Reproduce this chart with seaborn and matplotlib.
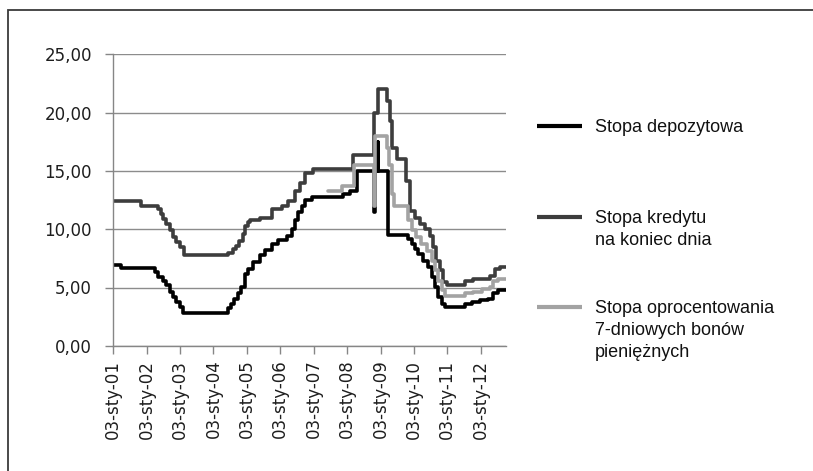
import matplotlib
matplotlib.use("Agg")
import matplotlib.pyplot as plt
from matplotlib.lines import Line2D
from matplotlib.patches import Rectangle
from matplotlib.ticker import FuncFormatter
import pandas as pd
import seaborn as sns

# --- series labels -------------------------------------------------------
series_names = [
    "Stopa depozytowa",
    "Stopa kredytu\nna koniec dnia",
    "Stopa oprocentowania\n7-dniowych bonów\npieniężnych",
]

# --- deposit rate (change dates and levels, %) ----------------------------
deposit_dates = [
    "2001-01-03", "2001-03-24", "2002-04-01", "2002-05-07", "2002-07-01",
    "2002-08-06", "2002-09-12", "2002-10-18", "2002-11-24", "2002-12-30",
    "2003-02-05", "2004-06-08", "2004-07-14", "2004-08-20", "2004-09-25",
    "2004-11-01", "2004-12-08", "2005-01-18", "2005-03-13", "2005-05-25",
    "2005-07-19", "2005-09-30", "2005-12-12", "2006-03-13", "2006-05-07",
    "2006-06-13", "2006-07-19", "2006-08-25", "2006-09-30", "2006-12-12",
    "2007-11-24", "2008-02-05", "2008-04-18", "2008-10-25", "2008-11-04",
    "2008-12-05", "2008-12-12", "2009-03-28", "2009-11-02", "2009-12-09",
    "2010-01-14", "2010-02-19", "2010-04-15", "2010-06-09", "2010-07-16",
    "2010-08-21", "2010-09-27", "2010-11-02", "2010-12-09", "2011-07-16",
    "2011-09-27", "2011-12-27", "2012-03-28", "2012-05-22", "2012-07-16",
    "2012-10-03",
]
deposit_rates = [
    6.90, 6.65, 6.30, 5.90, 5.60,
    5.20, 4.60, 4.20, 3.75, 3.35,
    2.80, 3.20, 3.60, 4.05, 4.50,
    5.05, 6.20, 6.60, 7.20, 7.75,
    8.20, 8.75, 9.05, 9.45, 10.00,
    10.75, 11.45, 12.00, 12.50, 12.75,
    13.00, 13.25, 15.00, 11.50, 15.00,
    17.50, 15.00, 9.50, 9.15, 8.75,
    8.30, 7.90, 7.30, 6.75, 5.90,
    5.05, 4.20, 3.60, 3.30, 3.60,
    3.75, 3.90, 4.05, 4.50, 4.75,
    4.75,
]

# --- overnight lending rate ---------------------------------------------
credit_dates = [
    "2001-01-03", "2001-11-06", "2002-05-07", "2002-06-13", "2002-07-01",
    "2002-08-06", "2002-09-12", "2002-10-18", "2002-11-24", "2002-12-30",
    "2003-02-16", "2004-06-08", "2004-08-02", "2004-09-07", "2004-10-14",
    "2004-11-19", "2004-12-08", "2005-01-14", "2005-02-05", "2005-05-25",
    "2005-09-30", "2006-01-18", "2006-04-01", "2006-06-13", "2006-08-06",
    "2006-09-30", "2006-12-30", "2008-03-13", "2008-10-27", "2008-12-05",
    "2009-03-17", "2009-04-15", "2009-05-14", "2009-06-27", "2009-10-14",
    "2009-11-19", "2010-01-14", "2010-03-10", "2010-05-04", "2010-06-27",
    "2010-08-02", "2010-09-07", "2010-10-14", "2010-11-19", "2010-12-27",
    "2011-07-16", "2011-10-14", "2012-04-15", "2012-06-09", "2012-08-02",
    "2012-10-03",
]
credit_rates = [
    12.40, 12.00, 11.75, 11.30, 10.90,
    10.45, 9.90, 9.30, 8.90, 8.45,
    7.75, 8.00, 8.30, 8.60, 9.00,
    9.60, 10.30, 10.60, 10.75, 11.00,
    11.75, 12.00, 12.45, 13.30, 14.00,
    14.85, 15.15, 16.40, 20.00, 22.00,
    21.00, 19.25, 17.00, 16.00, 14.15,
    11.60, 11.00, 10.45, 10.00, 9.45,
    8.50, 7.30, 6.50, 5.50, 5.25,
    5.55, 5.75, 6.00, 6.60, 6.75,
    6.75,
]

# --- 7-day bill rate -----------------------------------------------------
bill_dates = [
    "2007-06-13", "2007-11-06", "2008-03-21", "2008-10-25", "2008-11-04",
    "2009-03-19", "2009-04-08", "2009-05-07", "2009-06-04", "2009-11-02",
    "2009-12-09", "2010-01-31", "2010-03-27", "2010-05-21", "2010-07-16",
    "2010-08-21", "2010-09-27", "2010-11-02", "2010-12-09", "2011-07-16",
    "2011-10-14", "2012-01-14", "2012-04-15", "2012-05-22", "2012-07-16",
    "2012-10-03",
]
bill_rates = [
    13.25, 13.70, 15.50, 12.00, 18.00,
    17.00, 15.50, 13.00, 12.00, 10.75,
    9.90, 9.30, 8.75, 8.15, 7.30,
    6.50, 5.60, 4.75, 4.30, 4.50,
    4.60, 4.90, 5.05, 5.60, 5.75,
    5.75,
]

tick_labels = [
    "03-sty-01", "03-sty-02", "03-sty-03", "03-sty-04", "03-sty-05",
    "03-sty-06", "03-sty-07", "03-sty-08", "03-sty-09", "03-sty-10",
    "03-sty-11", "03-sty-12",
]
tick_dates = [
    "2001-01-03", "2002-01-03", "2003-01-03", "2004-01-03", "2005-01-03",
    "2006-01-03", "2007-01-03", "2008-01-03", "2009-01-03", "2010-01-03",
    "2011-01-03", "2012-01-03",
]
y_ticks = [0, 5, 10, 15, 20, 25]

# --- long-form table -----------------------------------------------------
frames = []
for name, dates, rates in zip(
    series_names,
    [deposit_dates, credit_dates, bill_dates],
    [deposit_rates, credit_rates, bill_rates],
):
    frames.append(pd.DataFrame({"date": pd.to_datetime(dates), "rate": rates, "series": name}))
df = pd.concat(frames, ignore_index=True)

sns.set_theme(style="ticks")
plt.rcParams["font.family"] = ["DejaVu Sans"]

W, H = 813, 471
fig = plt.figure(figsize=(W / 100, H / 100), dpi=100)
fig.patch.set_facecolor("white")

ax_left, ax_right, ax_top, ax_bottom = 113.3, 505.7, 54.3, 345.8
ax = fig.add_axes([ax_left / W, 1 - ax_bottom / H,
                   (ax_right - ax_left) / W, (ax_bottom - ax_top) / H])

palette = dict(zip(series_names, ["#000000", "#3d3d3d", "#a3a3a3"]))
sns.lineplot(
    data=df, x="date", y="rate", hue="series", hue_order=series_names,
    palette=palette, estimator=None, drawstyle="steps-post",
    linewidth=2.6, legend=False, ax=ax,
)

ax.set_xlim(pd.Timestamp("2001-01-03"), pd.Timestamp("2012-10-03"))
ax.set_ylim(0, 25)
ax.set_yticks(y_ticks)
ax.yaxis.set_major_formatter(FuncFormatter(lambda v, _: f"{v:.2f}".replace(".", ",")))
ax.set_xticks(pd.to_datetime(tick_dates))
ax.set_xticklabels(tick_labels, rotation=90)
ax.set_xlabel("")
ax.set_ylabel("")

axis_grey = "#868686"
ax.yaxis.grid(True, color="#8c8c8c", linewidth=1.0)
ax.xaxis.grid(False)
ax.set_axisbelow(True)
for side in ("top", "right"):
    ax.spines[side].set_visible(False)
for side in ("left", "bottom"):
    ax.spines[side].set_color(axis_grey)
    ax.spines[side].set_linewidth(1.0)

ax.tick_params(axis="x", bottom=True, direction="out", length=6, width=1,
               color=axis_grey, pad=4, labelsize=12, labelcolor="#1e1e1e")
ax.tick_params(axis="y", left=True, direction="out", length=6, width=1,
               color=axis_grey, pad=9.5, labelsize=12, labelcolor="#1e1e1e")

# --- legend on the right -------------------------------------------------
legend_rows = [126, 216.7, 306.7]
for line, name, row in zip(ax.get_lines()[:3], series_names, legend_rows):
    fig.add_artist(Line2D([536.7 / W, 581.7 / W], [1 - row / H, 1 - row / H],
                          transform=fig.transFigure, color=line.get_color(),
                          linewidth=3.0, solid_capstyle="butt"))
    for k, text_line in enumerate(name.split("\n")):
        baseline = row + 6.5 + k * 22
        fig.text(595 / W, 1 - baseline / H, text_line, ha="left", va="baseline",
                 fontsize=13, family=["Liberation Sans", "DejaVu Sans"],
                 color="#111111")

# --- chart frame ---------------------------------------------------------
fig.add_artist(Rectangle((8 / W, -0.2), 1.5, 0.2 + 1 - 10 / H,
                         transform=fig.transFigure, fill=False,
                         edgecolor="#3a3a3a", linewidth=1.3))

fig.savefig("out.png", dpi=100)
